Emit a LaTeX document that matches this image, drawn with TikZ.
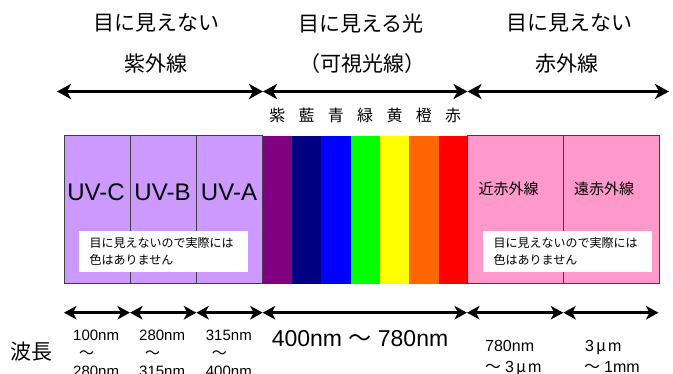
\documentclass[tikz,border=0pt]{standalone}
\usepackage{fontspec}
\setmainfont{Liberation Sans}
\newfontfamily\jp{Noto Sans CJK JP}
\usetikzlibrary{arrows.meta}
\definecolor{uvcol}{HTML}{CC99FF}
\definecolor{ircol}{HTML}{FF99CC}
\definecolor{sp1}{HTML}{800080}
\definecolor{sp2}{HTML}{000080}
\definecolor{sp3}{HTML}{0000FF}
\definecolor{sp4}{HTML}{00FF00}
\definecolor{sp5}{HTML}{FFFF00}
\definecolor{sp6}{HTML}{FF6600}
\definecolor{sp7}{HTML}{FF0000}
\begin{document}
\begin{tikzpicture}[x=1pt,y=-1pt,
  heading/.style={font=\jp\fontsize{21}{25}\selectfont, inner sep=0},
  colorlab/.style={font=\jp\fontsize{16}{18}\selectfont, inner sep=0},
  band/.style={draw=black!75, line width=0.9pt, inner sep=0, outer sep=0, minimum height=148pt, anchor=north west},
  strip/.style={inner sep=0, outer sep=0, minimum height=148pt, minimum width=29.6pt, anchor=north west},
  uvlab/.style={font=\fontsize{24}{26}\selectfont, inner sep=0},
  irlab/.style={font=\jp\fontsize{15}{18}\selectfont, inner sep=0},
  note/.style={fill=white, inner xsep=10.5pt, inner ysep=0pt, minimum width=169pt, minimum height=41pt, text width=148pt, align=left, anchor=north west, font=\jp\fontsize{12}{17}\selectfont},
  topspan/.style={line width=3.2pt, {Stealth[length=14pt,width=15pt,inset=4pt]}-{Stealth[length=14pt,width=15pt,inset=4pt]}},
  botspan/.style={line width=2.8pt, {Stealth[length=12.5pt,width=13.5pt,inset=3.5pt]}-{Stealth[length=12.5pt,width=13.5pt,inset=3.5pt]}},
  wl/.style={font=\fontsize{15}{18}\selectfont, inner sep=0, align=left, anchor=north west},
  wlr/.style={font=\fontsize{16}{21}\selectfont, inner sep=0, align=left, anchor=north west}
]
\useasboundingbox (0,0) rectangle (673,373);

% headings
\node[heading] (h1) at (156.5,23.3) {目に見えない};
\node[heading] (h2) at (156,64) {紫外線};
\node[heading] (h3) at (361,23.3) {目に見える光};
\node[heading] (h4) at (362,64) {（可視光線）};
\node[heading] (h5) at (569,23.3) {目に見えない};
\node[heading] (h6) at (567,64) {赤外線};

% top arrows
\coordinate (t0) at (57,91.5);
\coordinate (t1) at (263,91.5);
\coordinate (t2) at (467.5,91.5);
\coordinate (t3) at (669,91.5);
\draw[topspan] (t0) -- (t1);
\draw[topspan] (t1) -- (t2);
\draw[topspan] (t2) -- (t3);

% colour names
\node[colorlab] (c1) at (277.3,115) {紫};
\node[colorlab] (c2) at (306.6,115) {藍};
\node[colorlab] (c3) at (335.9,115) {青};
\node[colorlab] (c4) at (365.2,115) {緑};
\node[colorlab] (c5) at (394.5,115) {黄};
\node[colorlab] (c6) at (423.8,115) {橙};
\node[colorlab] (c7) at (453.1,115) {赤};

% spectrum strips
\node[strip, fill=sp1] (s1) at (262.7,135.5) {};
\node[strip, fill=sp2] (s2) at (292.0,135.5) {};
\node[strip, fill=sp3] (s3) at (321.3,135.5) {};
\node[strip, fill=sp4] (s4) at (350.6,135.5) {};
\node[strip, fill=sp5] (s5) at (379.9,135.5) {};
\node[strip, fill=sp6] (s6) at (409.2,135.5) {};
\node[strip, fill=sp7, minimum width=29pt] (s7) at (438.5,135.5) {};

% UV bands
\node[band, fill=uvcol, minimum width=66pt] (uvc) at (64,135.5) {};
\node[band, fill=uvcol, minimum width=66.3pt] (uvb) at (130,135.5) {};
\node[band, fill=uvcol, minimum width=66.4pt] (uva) at (196.3,135.5) {};
% IR bands
\node[band, fill=ircol, minimum width=95.6pt] (nir) at (467.7,135.5) {};
\node[band, fill=ircol, minimum width=95.7pt] (fir) at (563.3,135.5) {};

\node[uvlab] (luvc) at (96,192) {UV-C};
\node[uvlab] (luvb) at (162.5,192) {UV-B};
\node[uvlab] (luva) at (229,192) {UV-A};
\node[irlab] (lnir) at (508.5,189) {近赤外線};
\node[irlab] (lfir) at (604,189) {遠赤外線};

\node[note] (n1) at (79,231) {目に見えないので実際には\\色はありません};
\node[note] (n2) at (483,231) {目に見えないので実際には\\色はありません};

% bottom arrows
\coordinate (b0) at (64,312.7);
\coordinate (b1) at (130,312.7);
\coordinate (b2) at (196.3,312.7);
\coordinate (b3) at (262.7,312.7);
\coordinate (b4) at (467,312.7);
\coordinate (b5) at (563.3,312.7);
\coordinate (b6) at (658.5,312.7);
\draw[botspan] (b0) -- (b1);
\draw[botspan] (b1) -- (b2);
\draw[botspan] (b2) -- (b3);
\draw[botspan] (b3) -- (b4);
\draw[botspan] (b4) -- (b5);
\draw[botspan] (b5) -- (b6);

% wavelengths
\node[font=\jp\fontsize{21}{25}\selectfont, inner sep=0] (hacho) at (31,352) {波長};
\node[wl] (w1) at (73,330.3) {100nm\\\hspace*{6pt}{\jp ～}\\280nm};
\node[wl] (w2) at (139,330.3) {280nm\\\hspace*{6pt}{\jp ～}\\315nm};
\node[wl] (w3) at (205.7,330.3) {315nm\\\hspace*{6pt}{\jp ～}\\400nm};
\node[font=\fontsize{23}{26}\selectfont, inner sep=0, anchor=base] (w4) at (360,346.5) {400nm {\jp ～} 780nm};
\node[wlr] (w5) at (485,340) {780nm\\{\jp ～}\hspace{4pt}3\hspace{2pt}{\jp μ}\hspace{2pt}m};
\node[wlr] (w6) at (584,340) {\hspace*{1pt}3\hspace{2pt}{\jp μ}\hspace{2pt}m\\{\jp ～}\hspace{4pt}1mm};
\end{tikzpicture}
\end{document}
